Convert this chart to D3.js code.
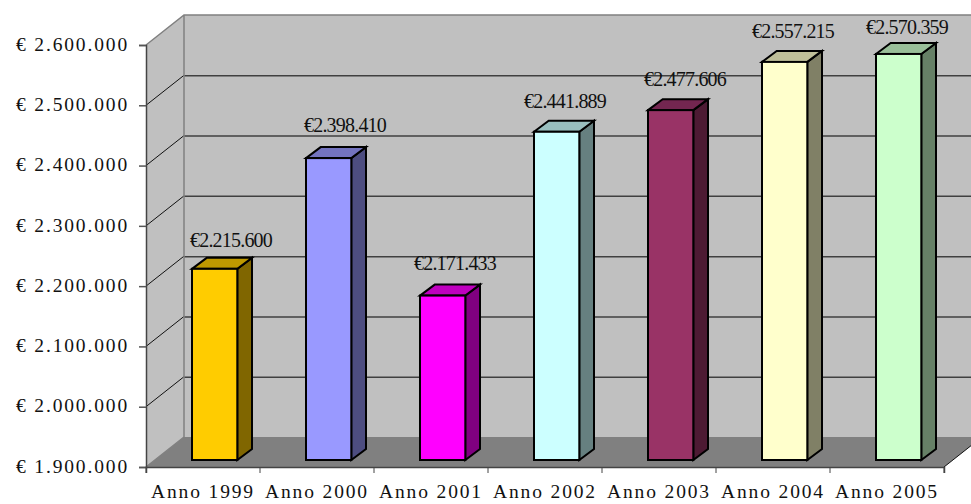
<!DOCTYPE html>
<html><head><meta charset="utf-8">
<script src="https://cdn.jsdelivr.net/npm/d3@7/dist/d3.min.js"></script>
<style>html,body{margin:0;padding:0;background:#fff}svg{display:block}text{font-family:"Liberation Serif",serif;fill:#111}</style>
</head><body><svg width="971" height="504"></svg>
<script>
const categories=["Anno 1999","Anno 2000","Anno 2001","Anno 2002","Anno 2003","Anno 2004","Anno 2005"];
const values=[2215600,2398410,2171433,2441889,2477606,2557215,2570359];
const valueLabels=["€2.215.600","€2.398.410","€2.171.433","€2.441.889","€2.477.606","€2.557.215","€2.570.359"];
const frontColors=["#ffcc00","#9999ff","#ff00ff","#ccffff","#993366","#ffffcc","#ccffcc"];
const topColors=["#bf9900","#7373bf","#bf00bf","#99bfbf","#732650","#bfbf99","#99bf99"];
const sideColors=["#806600","#4d4d80","#800080","#668080","#4d1a33","#808066","#668066"];
const yTicks=[1900000,2000000,2100000,2200000,2300000,2400000,2500000,2600000];
// hand-placed data label offsets, as in the source chart
const labelNudgeX=[0,0,-4,-8,-2,-8,-8];
const labelNudgeY=[-1,-5,-5,-3,-3,-3,1];
const fmt=v=>"€ "+d3.format(",")(v).replace(/,/g,".");

const svg=d3.select("svg");
const W={dx:38,dy:-30}, B={dx:14.7,dy:-11};
const y=d3.scaleLinear().domain([1900000,2600000]).range([467,45]);
const yBar=d3.scaleLinear().domain([1900000,2600000]).range([460,36]);
const x=d3.scaleBand().domain(categories).range([146,944]);
const barW=45.3, barOff=46;
const pts=a=>a.map(p=>p.join(",")).join(" ");
const x0=146,x1=944,y0=y(1900000),yT=y(2600000);

// walls
svg.append("polygon").attr("points",pts([[x0,y0],[x0+W.dx,y0+W.dy],[x0+W.dx,yT+W.dy],[x0,yT]])).attr("fill","#c0c0c0");
svg.append("rect").attr("x",x0+W.dx).attr("y",yT+W.dy).attr("width",971-x0-W.dx).attr("height",y0-yT).attr("fill","#c0c0c0");
svg.append("polygon").attr("points",pts([[x0,y0],[x0+W.dx,y0+W.dy],[x1+W.dx,y0+W.dy],[x1,y0]])).attr("fill","#808080");

// gridlines
const mid=yTicks.slice(1,-1);
svg.selectAll(".gb").data(mid).join("line").attr("x1",x0+W.dx).attr("x2",971)
  .attr("y1",d=>y(d)+W.dy+0.5).attr("y2",d=>y(d)+W.dy+0.5).attr("stroke","#404040").attr("stroke-width",1.5);
svg.selectAll(".gs").data(mid).join("line").attr("x1",x0).attr("x2",x0+W.dx)
  .attr("y1",d=>y(d)).attr("y2",d=>y(d)+W.dy).attr("stroke","#111").attr("stroke-width",1);
// wall outlines
svg.append("path").attr("d",`M${x0},${yT}L${x0+W.dx},${yT+W.dy}H971M${x0+W.dx},${yT+W.dy}V${y0+W.dy}L${x0},${y0}`)
  .attr("fill","none").attr("stroke","#808080").attr("stroke-width",1.5);
svg.append("line").attr("x1",x1).attr("y1",y0).attr("x2",x1+W.dx).attr("y2",y0+W.dy).attr("stroke","#111");

// axes
const yAxis=svg.append("g").attr("transform",`translate(${x0},0)`).call(d3.axisLeft(y).tickValues(yTicks).tickFormat(fmt).tickSize(7).tickPadding(10));
const xAxis=svg.append("g").attr("transform",`translate(0,${y0})`).call(d3.axisBottom(x).tickSize(6).tickPadding(11));
xAxis.selectAll(".tick line").remove();
svg.selectAll(".xt").data(categories.map((c,i)=>x0+i*x.step()).concat([x1])).join("line")
  .attr("x1",d=>d).attr("x2",d=>d).attr("y1",y0).attr("y2",y0+6).attr("stroke","#444");
[yAxis,xAxis].forEach(a=>{a.selectAll(".domain").attr("stroke","#444").attr("stroke-width",1.5);a.selectAll(".tick line").attr("stroke","#555").attr("stroke-width",1.5);
  a.selectAll("text").attr("font-size",19.5).attr("font-family","Liberation Serif").attr("fill","#111").style("letter-spacing","1.85px");});
yAxis.selectAll("text").attr("y",-1);

// bars
const g=svg.selectAll(".bar").data(values).join("g").attr("class","bar");
const bx=(i)=>x(categories[i])+barOff, by=v=>yBar(v), base=yBar(1900000);
g.append("polygon").attr("fill",(d,i)=>sideColors[i]).attr("points",(d,i)=>{const r=bx(i)+barW;return pts([[r,by(d)],[r+B.dx,by(d)+B.dy],[r+B.dx,base+B.dy],[r,base]]);});
g.append("polygon").attr("fill",(d,i)=>topColors[i]).attr("points",(d,i)=>{const l=bx(i);return pts([[l,by(d)],[l+B.dx,by(d)+B.dy],[l+barW+B.dx,by(d)+B.dy],[l+barW,by(d)]]);});
g.append("rect").attr("fill",(d,i)=>frontColors[i]).attr("x",(d,i)=>bx(i)).attr("y",d=>by(d)).attr("width",barW).attr("height",d=>base-by(d));
g.selectAll("polygon,rect").attr("stroke","#000").attr("stroke-width",2).attr("stroke-linejoin","miter");

g.append("text").text((d,i)=>valueLabels[i]).attr("x",(d,i)=>bx(i)+39+labelNudgeX[i]).attr("y",(d,i)=>by(d)-21+labelNudgeY[i])
  .attr("text-anchor","middle").attr("font-size",20).style("letter-spacing","-0.8px");
</script></body></html>
